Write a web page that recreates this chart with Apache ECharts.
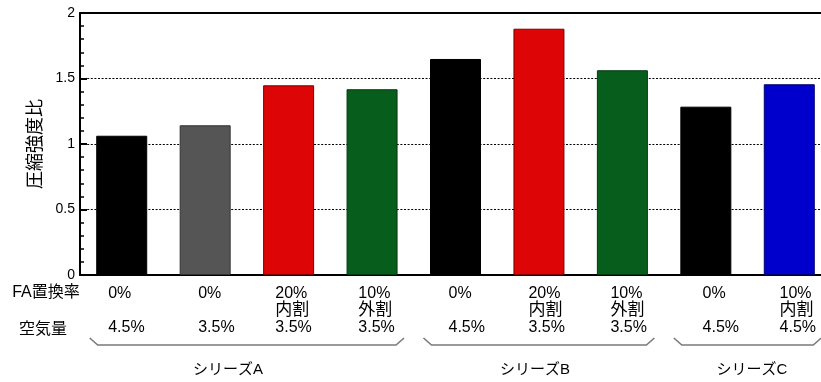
<!DOCTYPE html>
<html>
<head>
<meta charset="utf-8">
<script src="https://cdn.jsdelivr.net/npm/echarts@6/dist/echarts.min.js"></script>
<style>
  html, body { margin: 0; padding: 0; background: #fff; overflow: hidden; }
  /* the plot continues past the right edge of the window */
  #chart { width: 831px; height: 382px; }
</style>
</head>
<body>
<div id="chart"></div>
<script>
// Mix conditions per bar
const replaceRates = ['0%', '0%', '20%', '10%', '0%', '20%', '10%', '0%', '10%'];
const replaceMethods = ['', '', '内割', '外割', '', '内割', '外割', '', '内割'];
const airContents = ['4.5%', '3.5%', '3.5%', '3.5%', '4.5%', '3.5%', '3.5%', '4.5%', '4.5%'];
// Compressive strength ratio
const strengthRatios = [1.063, 1.143, 1.448, 1.418, 1.649, 1.880, 1.563, 1.285, 1.456];
// Series groups: name, first bar, last bar
const groupNames = ['シリーズA', 'シリーズB', 'シリーズC'];
const groupStart = [0, 4, 7];
const groupEnd = [3, 6, 8];
const yTicks = [0, 0.5, 1, 1.5, 2];

// Styling
const barColors = ['#000000', '#555555', '#dd0505', '#075e1c', '#000000', '#dd0505', '#075e1c', '#000000', '#0000cc'];
const barBorders = ['#000000', '#333333', '#7a0000', '#023a0e', '#000000', '#7a0000', '#023a0e', '#000000', '#00006a'];
const labelShift = [-13.5, -7, -13.3, -13.7, -7, -10.5, -12, -3.3, -9.7];
const groupLabelX = [228, 535, 752];

const FONT = "'Liberation Sans', Arial, 'Noto Sans CJK JP', sans-serif";
const categories = strengthRatios.map((v, i) => 'c' + i);

// one rich style per category so the label block sits left-aligned at its column
const rich = {};
labelShift.forEach((s, i) => {
  const base = { width: -2 * s, align: 'left', lineHeight: 17, color: '#000', fontFamily: FONT };
  rich['c' + i] = Object.assign({ fontSize: 16 }, base);
  rich['k' + i] = Object.assign({ fontSize: 17 }, base);
});

const chart = echarts.init(document.getElementById('chart'), null, { renderer: 'canvas' });

const option = {
  animation: false,
  backgroundColor: '#ffffff',
  grid: { left: 80, top: 13, right: 0, bottom: 107, containLabel: false },
  xAxis: [{
    type: 'category',
    data: categories,
    position: 'bottom',
    axisLine: { show: true, lineStyle: { color: '#000', width: 2 } },
    axisTick: { show: false },
    axisLabel: {
      interval: 0,
      margin: 10,
      align: 'center',
      formatter: (v, i) => '{c' + i + '|' + replaceRates[i] + '}\n' +
        '{k' + i + '|' + (replaceMethods[i] || ' ') + '}\n' +
        '{c' + i + '|' + airContents[i] + '}',
      rich: rich
    },
    splitLine: { show: false }
  }, {
    type: 'category',
    data: categories,
    position: 'top',
    axisLine: { show: true, lineStyle: { color: '#000', width: 2 } },
    axisTick: { show: false },
    axisLabel: { show: false }
  }],
  yAxis: {
    type: 'value',
    min: yTicks[0],
    max: yTicks[yTicks.length - 1],
    interval: yTicks[1] - yTicks[0],
    name: '圧縮強度比',
    nameLocation: 'middle',
    nameRotate: 90,
    nameGap: 33,
    nameTextStyle: { fontSize: 18, color: '#000', fontFamily: FONT },
    axisLine: { show: true, lineStyle: { color: '#000', width: 2 } },
    axisTick: { show: true, inside: true, length: 7, lineStyle: { color: '#000', width: 2 } },
    minorTick: { show: true, splitNumber: 5, length: 4, lineStyle: { color: '#000', width: 1.5 } },
    axisLabel: {
      margin: 5,
      fontSize: 14,
      color: '#000',
      fontFamily: FONT,
      formatter: v => String(v)
    },
    splitLine: { show: true, lineStyle: { color: '#000', width: 1, type: [2, 1.6] } }
  },
  series: [{
    type: 'bar',
    barWidth: 51,
    data: strengthRatios.map((v, i) => ({
      value: v,
      itemStyle: { color: barColors[i], borderColor: barBorders[i], borderWidth: 1 }
    }))
  }]
};

chart.setOption(option);

// Braces under each series group and the group names
const half = 32;
const braceY = 345, tipY = 338, slant = 8;
const graphics = [];
groupNames.forEach((name, g) => {
  const x0 = chart.convertToPixel({ xAxisIndex: 0 }, categories[groupStart[g]]) - half;
  const x1 = chart.convertToPixel({ xAxisIndex: 0 }, categories[groupEnd[g]]) + half;
  graphics.push({
    type: 'polyline',
    silent: true,
    shape: { points: [[x0, tipY], [x0 + slant, braceY], [x1 - slant, braceY], [x1, tipY]] },
    style: { stroke: '#7a7a7a', lineWidth: 1.6, fill: null }
  });
  graphics.push({
    type: 'text',
    silent: true,
    x: groupLabelX[g],
    y: 370,
    style: {
      text: name, fontSize: 15, fill: '#000', fontFamily: FONT,
      align: 'center', verticalAlign: 'middle'
    }
  });
});
// Row headings for the condition labels
graphics.push({
  type: 'text', silent: true, x: 46, y: 293,
  style: { text: 'FA置換率', fontSize: 16, fill: '#000', fontFamily: FONT, align: 'center', verticalAlign: 'middle' }
});
graphics.push({
  type: 'text', silent: true, x: 43, y: 330,
  style: { text: '空気量', fontSize: 16, fill: '#000', fontFamily: FONT, align: 'center', verticalAlign: 'middle' }
});

chart.setOption({ graphic: graphics });
</script>
</body>
</html>
